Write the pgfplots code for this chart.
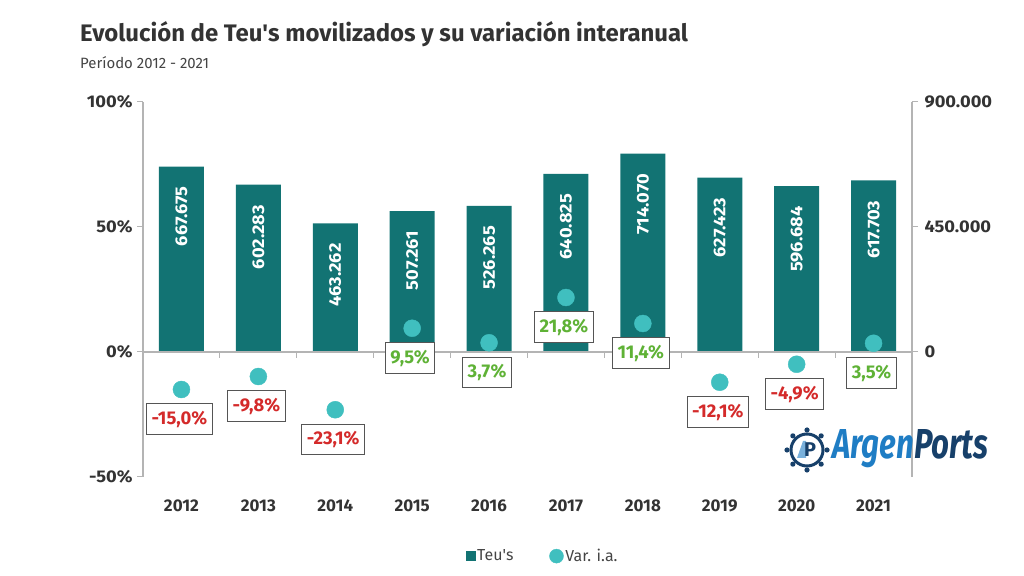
\documentclass[border=0pt]{standalone}
\usepackage{pgfplots}
\pgfplotsset{compat=1.18}
\usepackage{pgfplotstable}
\usepackage{fontspec}
\setmainfont{Fira Sans}
\newfontfamily\numfont[FakeStretch=1.08]{Fira Sans}
\definecolor{barc}{HTML}{127373}
\definecolor{dotc}{HTML}{40BFBF}
\definecolor{axgray}{HTML}{B4B4B4}
\definecolor{txt}{HTML}{333333}
\definecolor{subt}{HTML}{444444}
\definecolor{posg}{HTML}{5FB236}
\definecolor{negr}{HTML}{D42A2A}
\definecolor{boxg}{HTML}{555555}
\definecolor{logob}{HTML}{1F7DC4}
\definecolor{logon}{HTML}{17406A}

\pgfplotstableread{
x teu lab
0 667675 667.675
1 602283 602.283
2 463262 463.262
3 507261 507.261
4 526265 526.265
5 640825 640.825
6 714070 714.070
7 627423 627.423
8 596684 596.684
9 617703 617.703
}\teus

\pgfplotstableread{
x var lab
0 -15.0 -15,0
1 -9.8 -9,8
2 -23.1 -23,1
7 -12.1 -12,1
8 -4.9 -4,9
}\negs

\pgfplotstableread{
x var lab
3 9.5 9,5
4 3.7 3,7
5 21.8 21,8
6 11.4 11,4
9 3.5 3,5
}\poss

\begin{document}
\begin{tikzpicture}
\path[use as bounding box] (0,0) rectangle (1024bp,576bp);

% title
\node[anchor=base west, inner sep=0, text=txt, font=\fontsize{24}{28}\selectfont\bfseries] at (80bp,534bp) {Evolución de Teu\textquotesingle s movilizados y su variación interanual};
\node[anchor=base west, inner sep=0, text=subt, font=\fontsize{15}{18}\selectfont] at (80bp,507bp) {Período 2012 - 2021};

% bars, right axis
\begin{axis}[
  at={(143bp,99bp)}, anchor=south west, scale only axis,
  width=769bp, height=375bp,
  xmin=-0.5, xmax=9.5, ymin=-450000, ymax=900000,
  axis y line*=right, axis x line=none,
  ytick={0,450000,900000}, yticklabels={0,450.000,900.000},
  scaled y ticks=false,
  y axis line style={axgray, line width=1.2bp},
  ytick style={axgray, line width=1bp},
  tick align=outside, major tick length=6bp,
  yticklabel style={font=\fontsize{17}{17}\selectfont\numfont\bfseries, text=txt, xshift=3bp},
  clip=false,
  legend style={draw=none, fill=none, at={(0.52,-0.211)}, anchor=center,
    font=\fontsize{16}{16}\selectfont, text=subt, legend columns=2,
    /tikz/every even column/.append style={column sep=34bp}},
]
\addplot[ybar, bar width=45bp, fill=barc, draw=none, forget plot,
  point meta=explicit symbolic,
  nodes near coords,
  every node near coord/.append style={yshift=-20bp, rotate=90, anchor=east,
    text=white, font=\fontsize{17}{17}\selectfont\numfont\bfseries, inner sep=0pt}]
  table[x=x, y=teu, meta=lab]{\teus};
\addlegendimage{only marks, mark=square*, mark size=4.5bp, barc}
\addlegendentry{Teu\textquotesingle s}
\addlegendimage{only marks, mark=*, mark size=7bp, dotc}
\addlegendentry{Var. i.a.}
\end{axis}

% dots, left axis
\begin{axis}[
  at={(143bp,99bp)}, anchor=south west, scale only axis,
  width=769bp, height=375bp,
  xmin=-0.5, xmax=9.5, ymin=-50, ymax=100,
  axis y line*=left, axis x line*=bottom,
  x axis line style={draw=none},
  xtick={0,...,9}, xticklabels={2012,2013,2014,2015,2016,2017,2018,2019,2020,2021},
  xtick style={draw=none},
  xticklabel style={font=\fontsize{17}{17}\selectfont\bfseries, text=txt, yshift=-13bp},
  ytick={-50,0,50,100}, yticklabels={-50\%,0\%,50\%,100\%},
  y axis line style={axgray, line width=1.2bp},
  ytick style={axgray, line width=1bp},
  tick align=outside, major tick length=6bp,
  yticklabel style={font=\fontsize{17}{17}\selectfont\numfont\bfseries, text=txt, xshift=-1bp},
  clip=false,
]
\draw[axgray, line width=1.2bp] (axis cs:-0.5,0) -- (axis cs:9.5,0);
\pgfplotsinvokeforeach{0.5,1.5,2.5,3.5,4.5,5.5,6.5,7.5,8.5}{
  \draw[axgray, line width=1bp] (axis cs:#1,0) -- ([yshift=-6bp]axis cs:#1,0);
}
\addplot[only marks, mark=*, mark size=8.5bp, dotc,
  point meta=explicit symbolic,
  nodes near coords={\pgfplotspointmeta\%},
  every node near coord/.append style={anchor=north, yshift=-14bp, xshift=-2bp,
    draw=boxg, line width=1bp, fill=white, text=negr,
    font=\fontsize{18.5}{18.5}\selectfont\bfseries, inner xsep=5bp, inner ysep=7bp}]
  table[x=x, y=var, meta=lab]{\negs};
\addplot[only marks, mark=*, mark size=8.5bp, dotc,
  point meta=explicit symbolic,
  nodes near coords={\pgfplotspointmeta\%},
  every node near coord/.append style={anchor=north, yshift=-14bp, xshift=-2bp,
    draw=boxg, line width=1bp, fill=white, text=posg,
    font=\fontsize{18.5}{18.5}\selectfont\bfseries, inner xsep=5bp, inner ysep=7bp}]
  table[x=x, y=var, meta=lab]{\poss};
\end{axis}

% logo
\begin{scope}[shift={(807bp,126bp)}]
  \draw[logon, line width=3bp] (0,0) circle (16bp);
  \foreach \a in {0,45,...,315} {\fill[logon] (\a:20bp) circle (2.6bp);}
  \fill[logob!60] (-10bp,-8bp) -- (-4bp,9bp) -- (-1bp,9bp) -- (-1bp,-8bp) -- cycle;
  \node[text=logon, font=\fontsize{20}{20}\selectfont\bfseries] at (3bp,0) {P};
\end{scope}
\node[anchor=west, inner sep=0] at (832bp,127bp) {\resizebox{156bp}{29bp}{\fontsize{30}{30}\selectfont\bfseries\itshape\textcolor{logob}{Argen}\textcolor{logon}{Ports}}};
\end{tikzpicture}
\end{document}
